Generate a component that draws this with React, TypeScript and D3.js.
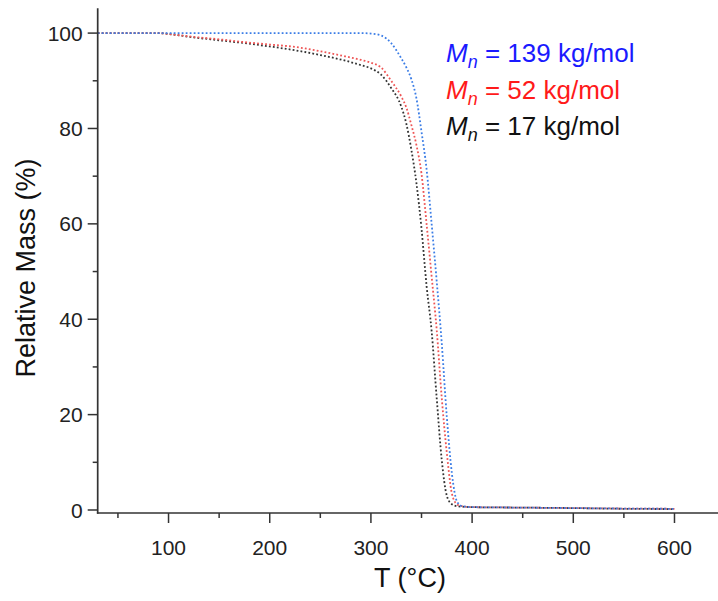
import React from "react";
import * as d3 from "d3";

const temps = [30, 50, 90, 100, 125, 150, 175, 200, 225, 250, 275, 290, 300, 310, 320, 330, 335, 340, 345, 350, 355, 360, 365, 370, 375, 380, 385, 390, 400, 450, 500, 550, 600];
const massBlue = [100, 100, 100, 100, 100, 100, 100, 100, 100, 100, 100, 100, 99.9, 99.5, 97.9, 94.7, 92.8, 90.3, 86.3, 79.3, 71.5, 60, 48, 35, 19.5, 7.7, 1.8, 0.8, 0.6, 0.5, 0.4, 0.3, 0.25];
const massRed = [100, 100, 100, 99.8, 99.2, 98.7, 98.1, 97.6, 97.1, 96.2, 95.1, 94.4, 93.8, 92.8, 90.0, 86.7, 84.4, 80.7, 76.5, 70.5, 60, 49, 37.8, 23.5, 12, 3.5, 1.2, 0.8, 0.6, 0.5, 0.4, 0.3, 0.25];
const massBlack = [100, 100, 100, 99.8, 99.1, 98.5, 97.9, 97.2, 96.4, 95.4, 94.2, 93.3, 92.6, 91.3, 88.5, 84.6, 81.0, 75.5, 68.5, 59, 47, 37.5, 23.5, 10.5, 3, 1.2, 0.8, 0.7, 0.6, 0.5, 0.4, 0.25, 0.2];

const seriesNames = ["139", "52", "17"];
const lineColors = ["#3b7de6", "#ee5555", "#333333"];
const legendColors = ["#1a1aff", "#ff1a1a", "#111111"];
const xTicks = [100, 200, 300, 400, 500, 600];
const xMinor = [50, 150, 250, 350, 450, 550];
const yTicks = [0, 20, 40, 60, 80, 100];
const yMinor = [10, 30, 50, 70, 90];

const W = 718, H = 601;
const x = d3.scaleLinear().domain([30, 643]).range([97.7, 718]);
const y = d3.scaleLinear().domain([-0.63, 105.2]).range([513, 8.3]);

export default function App() {
  const allSeries = [massBlue, massRed, massBlack];
  const line = d3
    .line<number>()
    .x((_, i) => x(temps[i]))
    .y((d) => y(d))
    .curve(d3.curveMonotoneX);
  const font = "Arial, 'Liberation Sans', sans-serif";
  const axisColor = "#333";
  const [x0, x1] = x.range();
  const [y0, y1] = y.range();
  return (
    <svg width={W} height={H} style={{ position: "absolute", left: 0, top: 0, background: "#fff" }} fontFamily={font}>
      <defs>
        <clipPath id="plot">
          <rect x={x0} y={y1} width={x1 - x0} height={y0 - y1} />
        </clipPath>
      </defs>
      <g clipPath="url(#plot)">
        {allSeries
          .slice()
          .reverse()
          .map((s, k) => {
            const idx = allSeries.length - 1 - k;
            return (
              <path
                key={idx}
                d={line(s) || ""}
                fill="none"
                stroke={lineColors[idx]}
                strokeWidth={1.8}
                strokeDasharray="1.8,2.2"
              />
            );
          })}
      </g>
      <line x1={x0} x2={x0} y1={y1} y2={y0 + 0.8} stroke={axisColor} strokeWidth={1.7} />
      <line x1={x0 - 0.8} x2={x1} y1={y0} y2={y0} stroke={axisColor} strokeWidth={1.7} />
      {yTicks.map((t) => (
        <g key={"y" + t}>
          <line x1={x0 - 10} x2={x0} y1={y(t)} y2={y(t)} stroke={axisColor} strokeWidth={1.5} />
          <text x={x0 - 15} y={y(t)} dy="0.36em" textAnchor="end" fontSize={21} fill="#222">
            {t}
          </text>
        </g>
      ))}
      {yMinor.map((t) => (
        <line key={"ym" + t} x1={x0 - 5} x2={x0} y1={y(t)} y2={y(t)} stroke={axisColor} strokeWidth={1.5} />
      ))}
      {xTicks.map((t) => (
        <g key={"x" + t}>
          <line x1={x(t)} x2={x(t)} y1={y0} y2={y0 + 10} stroke={axisColor} strokeWidth={1.5} />
          <text x={x(t)} y={555} textAnchor="middle" fontSize={21} fill="#222">
            {t}
          </text>
        </g>
      ))}
      {xMinor.map((t) => (
        <line key={"xm" + t} x1={x(t)} x2={x(t)} y1={y0} y2={y0 + 5} stroke={axisColor} strokeWidth={1.5} />
      ))}
      <text x={410} y={587} textAnchor="middle" fontSize={27} fill="#111">
        T (°C)
      </text>
      <text transform="translate(35,268) rotate(-90)" textAnchor="middle" fontSize={27} fill="#111">
        Relative Mass (%)
      </text>
      {seriesNames.map((n, i) => (
        <text key={n} x={446} y={62 + i * 36.5} fontSize={26} fill={legendColors[i]}>
          <tspan fontStyle="italic">M</tspan>
          <tspan fontStyle="italic" fontSize={18} dy={6}>
            n
          </tspan>
          <tspan dy={-6}>{` = ${n} kg/mol`}</tspan>
        </text>
      ))}
    </svg>
  );
}
